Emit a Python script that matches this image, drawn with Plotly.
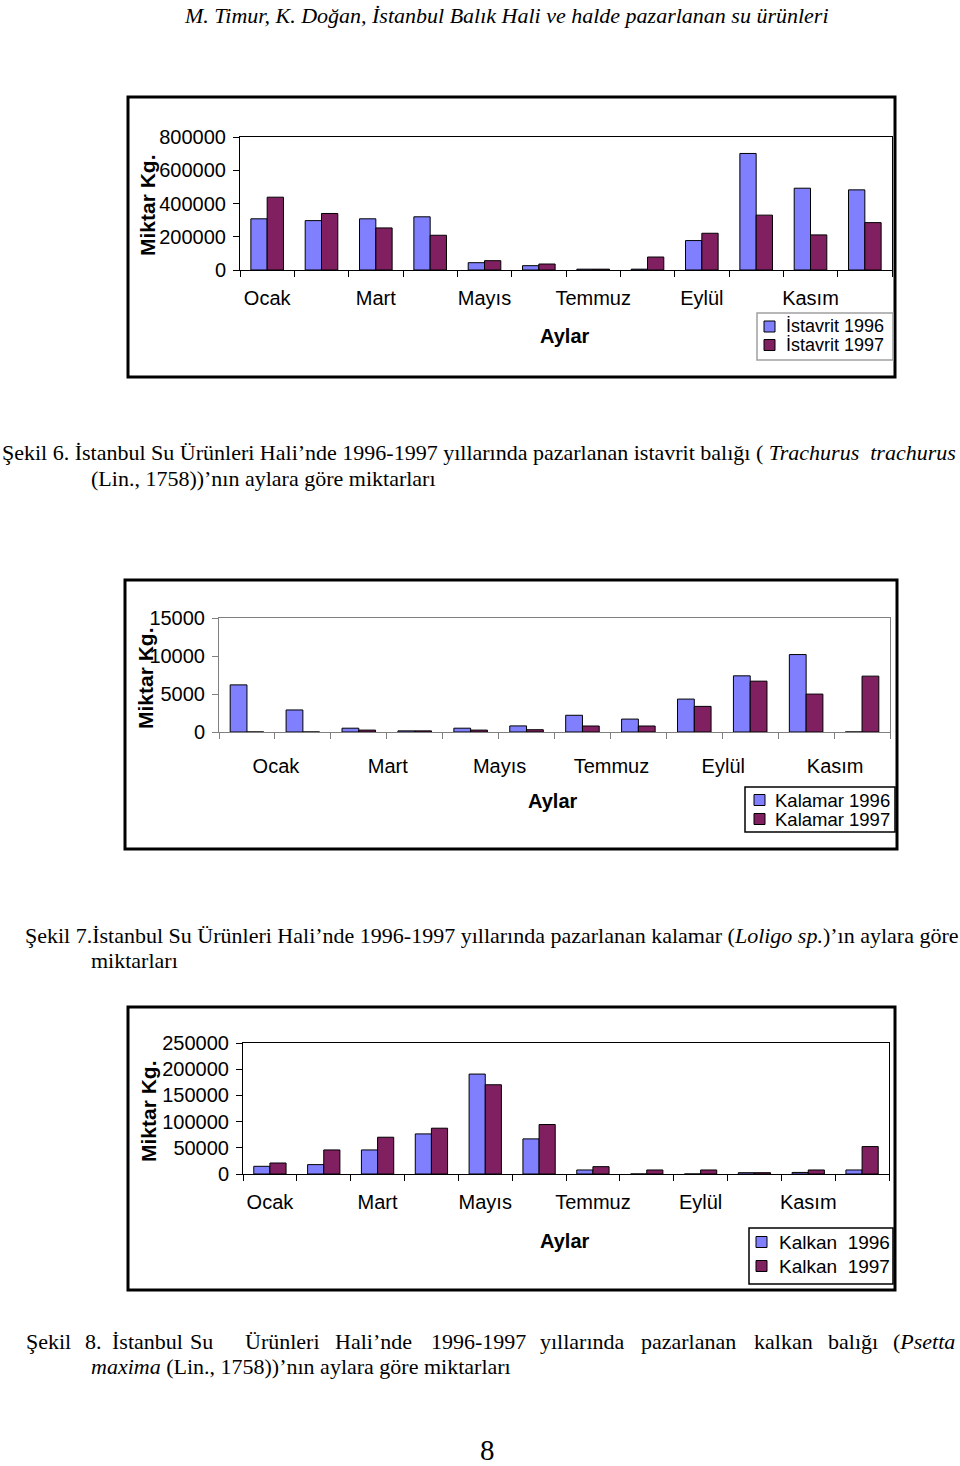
import plotly.graph_objects as go

# ---------------- data ----------------
months = ["Ocak", "Şubat", "Mart", "Nisan", "Mayıs", "Haziran",
          "Temmuz", "Ağustos", "Eylül", "Ekim", "Kasım", "Aralık"]
tick_months = ["Ocak", "Mart", "Mayıs", "Temmuz", "Eylül", "Kasım"]

istavrit_1996 = [308000, 297000, 308000, 320000, 44000, 26000,
                 5000, 5000, 177000, 701000, 492000, 482000]
istavrit_1997 = [438000, 340000, 253000, 209000, 56000, 36000,
                 5000, 78000, 221000, 330000, 211000, 285000]

kalamar_1996 = [6200, 2900, 500, 150, 500, 800,
                2200, 1700, 4330, 7390, 10190, 0]
kalamar_1997 = [0, 0, 250, 150, 250, 300,
                790, 790, 3370, 6690, 4990, 7350]

kalkan_1996 = [14700, 17900, 45900, 76500, 190700, 67000,
               7700, 0, 0, 2500, 3000, 7700]
kalkan_1997 = [21000, 45900, 70200, 87400, 170300, 94400,
               14000, 7700, 7700, 2500, 7700, 52300]

series_names = {
    "1": ("İstavrit 1996", "İstavrit 1997"),
    "2": ("Kalamar 1996", "Kalamar 1997"),
    "3": ("Kalkan  1996", "Kalkan  1997"),
}

BLUE = "#8080FF"
MAROON = "#802060"
W, H = 960, 1466
SANS = "Liberation Sans, Arial, sans-serif"
SERIF = "Liberation Serif, Times New Roman, serif"


def px(x):
    return x / W


def py(y):
    return 1 - y / H


idx = list(range(len(months)))
tick_idx = [months.index(m) for m in tick_months]

fig = go.Figure()

charts = [
    ("1", istavrit_1996, istavrit_1997),
    ("2", kalamar_1996, kalamar_1997),
    ("3", kalkan_1996, kalkan_1997),
]
for n, a, b in charts:
    xa = "x" if n == "1" else "x" + n
    ya = "y" if n == "1" else "y" + n
    fig.add_trace(go.Bar(x=idx, y=a, name=series_names[n][0], xaxis=xa, yaxis=ya,
                         showlegend=False, offsetgroup="a",
                         marker=dict(color=BLUE, line=dict(color="black", width=1))))
    fig.add_trace(go.Bar(x=idx, y=b, name=series_names[n][1], xaxis=xa, yaxis=ya,
                         showlegend=False, offsetgroup="b",
                         marker=dict(color=MAROON, line=dict(color="black", width=1))))

# geometry (pixels)
plots = {
    "1": dict(x0=240, x1=892, ytop=137, ybot=270, rng=[0, 800000], dtick=200000,
              lc="black", shift=0, stand=10),
    "2": dict(x0=219, x1=890, ytop=618, ybot=732, rng=[0, 15000], dtick=5000,
              lc="#808080", shift=29, stand=16),
    "3": dict(x0=243, x1=889, ytop=1043, ybot=1174, rng=[0, 250000], dtick=50000,
              lc="black", shift=0, stand=10),
}

layout = dict(
    width=W, height=H, margin=dict(l=0, r=0, t=0, b=0, autoexpand=False),
    paper_bgcolor="white", plot_bgcolor="white",
    barmode="group", bargap=0.4, bargroupgap=0.0,
    font=dict(family=SANS, size=20, color="black"),
    showlegend=False,
)

for n, g in plots.items():
    xk = "xaxis" if n == "1" else "xaxis" + n
    yk = "yaxis" if n == "1" else "yaxis" + n
    ya = "y" if n == "1" else "y" + n
    xa = "x" if n == "1" else "x" + n
    layout[xk] = dict(
        domain=[px(g["x0"]), px(g["x1"])], anchor=ya,
        range=[-0.5, 11.5], tickmode="array", tickvals=tick_idx, ticktext=tick_months,
        ticks="", showgrid=False, zeroline=False,
        showline=True, mirror=True, linecolor=g["lc"], linewidth=1,
        tickfont=dict(size=20, family=SANS), ticklabelstandoff=g["stand"],
        ticklabelshift=g["shift"],
        minor=dict(tickmode="linear", tick0=0.5, dtick=1, ticks="outside",
                   ticklen=6, tickcolor=g["lc"], tickwidth=1, showgrid=False),
    )
    layout[yk] = dict(
        domain=[py(g["ybot"]), py(g["ytop"])], anchor=xa,
        range=g["rng"], dtick=g["dtick"], tickformat="d",
        ticks="outside", ticklen=6, tickcolor=g["lc"], showgrid=False, zeroline=False,
        showline=True, mirror=True, linecolor=g["lc"], linewidth=1,
        tickfont=dict(size=20, family=SANS), ticklabelstandoff=3,
    )

fig.update_layout(**layout)

# frames around each chart
frames = [(128, 97, 895, 377), (125, 580, 897, 849), (128, 1007, 895, 1290)]
for x0, y0, x1, y1 in frames:
    fig.add_shape(type="rect", xref="paper", yref="paper",
                  x0=px(x0), x1=px(x1), y0=py(y0), y1=py(y1),
                  line=dict(color="black", width=3), fillcolor="rgba(0,0,0,0)")

ann = []


def add_text(x, y, text, size=20, family=SANS, anchor="center", angle=0, vanchor="middle"):
    ann.append(dict(x=px(x), y=py(y), xref="paper", yref="paper", text=text,
                    showarrow=False, xanchor=anchor, yanchor=vanchor, textangle=angle,
                    font=dict(size=size, family=family, color="black")))


# legends (box, keys and labels)
legends = [
    dict(box=(757, 313, 893, 360), bc="#A0A0A0", kx=764, ys=(326.5, 345), tx=784, size=18, n="1"),
    dict(box=(745, 787, 895, 832), bc="black", kx=754, ys=(800, 819), tx=773, size=18.5, n="2"),
    dict(box=(749, 1228, 893, 1284), bc="black", kx=756, ys=(1242, 1266), tx=777, size=19, n="3"),
]
for lg in legends:
    x0, y0, x1, y1 = lg["box"]
    fig.add_shape(type="rect", xref="paper", yref="paper",
                  x0=px(x0), x1=px(x1), y0=py(y0), y1=py(y1),
                  line=dict(color=lg["bc"], width=1.5), fillcolor="white")
    for yy, col, name in zip(lg["ys"], (BLUE, MAROON), series_names[lg["n"]]):
        fig.add_shape(type="rect", xref="paper", yref="paper",
                      x0=px(lg["kx"]), x1=px(lg["kx"] + 11), y0=py(yy - 5.5), y1=py(yy + 5.5),
                      line=dict(color="black", width=1), fillcolor=col)
        add_text(lg["tx"], yy, name.replace("  ", "\u00a0\u00a0"), size=lg["size"], anchor="left")

# axis titles
add_text(565, 336, "<b>Aylar</b>")
add_text(553, 801, "<b>Aylar</b>")
add_text(565, 1241, "<b>Aylar</b>")
add_text(148, 205, "<b>Miktar Kg.</b>", size=21, angle=-90)
add_text(145, 678, "<b>Miktar Kg.</b>", size=21, angle=-90)
add_text(148, 1111, "<b>Miktar Kg.</b>", size=21, angle=-90)

# page text
add_text(507, 15, "<i>M. Timur, K. Doğan, İstanbul Balık Hali ve halde pazarlanan su ürünleri</i>",
         size=22, family=SERIF)
add_text(0, 452, "Şekil 6. İstanbul Su Ürünleri Hali’nde 1996-1997 yıllarında pazarlanan istavrit balığı ( "
         "<i>Trachurus\u00a0\u00a0trachurus</i>", size=22, family=SERIF, anchor="left")
add_text(89, 478, "(Lin., 1758))’nın aylara göre miktarları", size=22, family=SERIF, anchor="left")
add_text(23, 936, "Şekil 7.İstanbul Su Ürünleri Hali’nde 1996-1997 yıllarında pazarlanan kalamar "
         "(<i>Loligo sp.</i>)’ın aylara göre", size=22, family=SERIF, anchor="left")
add_text(89, 961, "miktarları", size=22, family=SERIF, anchor="left")

# justified first line of caption 8 (word positions)
words8 = [(24, "Şekil", "left"), (93.5, "8.", "center"), (147.5, "İstanbul", "center"),
          (201.5, "Su", "center"), (282, "Ürünleri", "center"), (373, "Hali’nde", "center"),
          (478, "1996-1997", "center"), (582.5, "yıllarında", "center"),
          (688, "pazarlanan", "center"), (783, "kalkan", "center"), (853, "balığı", "center"),
          (957, "(<i>Psetta</i>", "right")]
for x, w, a in words8:
    add_text(x, 1341, w, size=22, family=SERIF, anchor=a)
add_text(89, 1366, "<i>maxima</i> (Lin., 1758))’nın aylara göre miktarları", size=22,
         family=SERIF, anchor="left")
add_text(487, 1450, "8", size=29, family=SERIF)

fig.update_layout(annotations=ann)
fig.write_html("out.html", config={"displayModeBar": False},
               post_script="document.body.style.margin='0';document.body.style.padding='0';")
